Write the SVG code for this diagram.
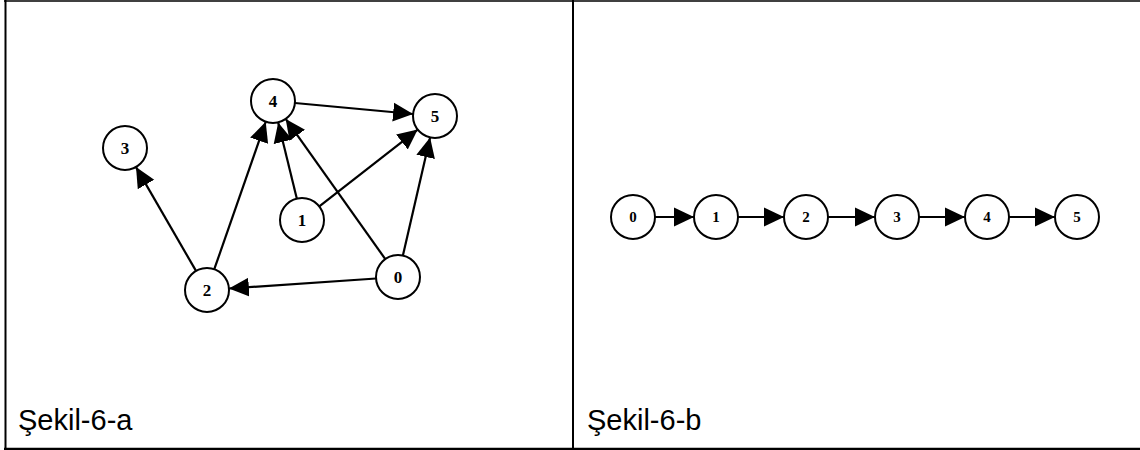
<svg xmlns="http://www.w3.org/2000/svg" width="1140" height="450" viewBox="0 0 1140 450">
  <style>
    .frame { stroke: #000; fill: none; }
    .node circle { fill: #fff; stroke: #000; stroke-width: 2; }
    .node text { font-family: "Liberation Serif", "DejaVu Serif", serif; font-weight: bold; fill: #000; text-anchor: middle; }
    .ga text { font-size: 17px; }
    .gb text { font-size: 15px; }
    .edges line { stroke: #000; stroke-width: 2.2; marker-end: url(#arrow); }
    .caption { font-family: "Liberation Sans", Arial, sans-serif; font-size: 29px; fill: #000; }
  </style>
  <defs>
    <marker id="arrow" markerUnits="userSpaceOnUse" markerWidth="22" markerHeight="22" viewBox="0 0 22 22" refX="20" refY="11" orient="auto">
      <path d="M0,1.5 L20,11 L0,20.5 Z" fill="#000"/>
    </marker>
  </defs>

  <rect width="1140" height="450" fill="#fff"/>

  <!-- table frame -->
  <g id="frame" class="frame">
    <line x1="4" y1="1" x2="1140" y2="1" stroke-width="1.5"/>
    <line x1="5.5" y1="0" x2="5.5" y2="450" stroke-width="2"/>
    <line x1="573" y1="0" x2="573" y2="450" stroke-width="2"/>
    <line x1="4" y1="449" x2="1140" y2="449" stroke-width="2.5"/>
  </g>

  <!-- graph a: connectors -->
  <g id="edges-a" class="edges">
    <line x1="294.9" y1="103.0" x2="413.1" y2="114.0"/>
    <line x1="296.8" y1="198.6" x2="278.2" y2="122.4"/>
    <line x1="319.3" y1="206.4" x2="417.7" y2="129.6"/>
    <line x1="385.3" y1="259.1" x2="285.7" y2="118.9"/>
    <line x1="402.9" y1="255.6" x2="430.1" y2="137.4"/>
    <line x1="376.1" y1="278.5" x2="228.9" y2="288.5"/>
    <line x1="214.3" y1="269.2" x2="265.7" y2="121.8"/>
    <line x1="196.0" y1="270.9" x2="136.0" y2="167.1"/>
  </g>

  <!-- graph a: nodes -->
  <g class="ga">
    <g id="a-node-0" class="node"><circle cx="398" cy="277" r="22"/><text x="398" y="283">0</text></g>
    <g id="a-node-1" class="node"><circle cx="302" cy="220" r="22"/><text x="302" y="226">1</text></g>
    <g id="a-node-2" class="node"><circle cx="207" cy="290" r="22"/><text x="207" y="296">2</text></g>
    <g id="a-node-3" class="node"><circle cx="125" cy="148" r="22"/><text x="125" y="154">3</text></g>
    <g id="a-node-4" class="node"><circle cx="273" cy="101" r="22"/><text x="273" y="107">4</text></g>
    <g id="a-node-5" class="node"><circle cx="435" cy="116" r="22"/><text x="435" y="122">5</text></g>
  </g>

  <!-- graph b: connectors -->
  <g id="edges-b" class="edges">
    <line x1="655" y1="217" x2="694" y2="217"/>
    <line x1="738" y1="217" x2="784" y2="217"/>
    <line x1="828" y1="217" x2="875" y2="217"/>
    <line x1="919" y1="217" x2="965" y2="217"/>
    <line x1="1009" y1="217" x2="1055" y2="217"/>
  </g>

  <!-- graph b: nodes -->
  <g class="gb">
    <g id="b-node-0" class="node"><circle cx="633" cy="217" r="22"/><text x="633" y="222">0</text></g>
    <g id="b-node-1" class="node"><circle cx="716" cy="217" r="22"/><text x="716" y="222">1</text></g>
    <g id="b-node-2" class="node"><circle cx="806" cy="217" r="22"/><text x="806" y="222">2</text></g>
    <g id="b-node-3" class="node"><circle cx="897" cy="217" r="22"/><text x="897" y="222">3</text></g>
    <g id="b-node-4" class="node"><circle cx="987" cy="217" r="22"/><text x="987" y="222">4</text></g>
    <g id="b-node-5" class="node"><circle cx="1077" cy="217" r="22"/><text x="1077" y="222">5</text></g>
  </g>

  <!-- captions -->
  <text class="caption" x="18" y="430">Şekil-6-a</text>
  <text class="caption" x="587" y="430">Şekil-6-b</text>
</svg>
